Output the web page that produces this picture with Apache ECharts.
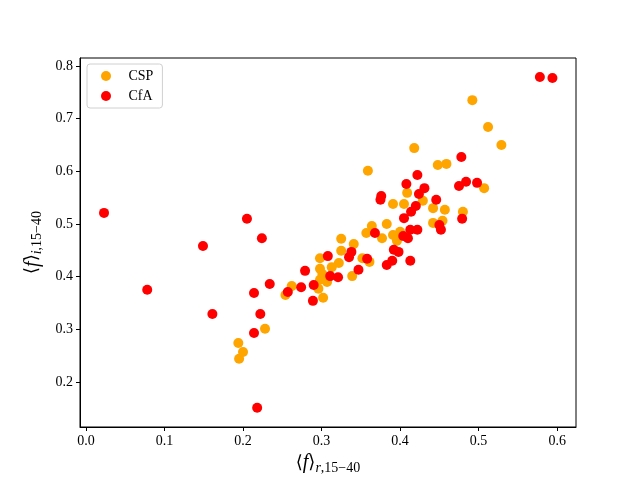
<!DOCTYPE html>
<html>
<head>
<meta charset="utf-8">
<script src="https://cdn.jsdelivr.net/npm/echarts@6/dist/echarts.min.js"></script>
<style>
  html, body { margin: 0; padding: 0; background: #fff; }
  #chart { width: 640px; height: 480px; }
</style>
</head>
<body>
<div id="chart"></div>
<script>
// CSP points [<f>_r, <f>_i]
const cspX = [0.492, 0.512, 0.529, 0.418, 0.359, 0.448, 0.459, 0.507, 0.409, 0.391,
  0.405, 0.429, 0.442, 0.457, 0.480, 0.454, 0.442, 0.364, 0.383, 0.357,
  0.377, 0.391, 0.400, 0.396, 0.325, 0.341, 0.325, 0.352, 0.361, 0.298,
  0.322, 0.313, 0.298, 0.301, 0.298, 0.339, 0.307, 0.296, 0.302, 0.262,
  0.254, 0.228, 0.194, 0.200, 0.195]
const cspY = [0.735, 0.684, 0.650, 0.644, 0.601, 0.612, 0.614, 0.568, 0.559, 0.538,
  0.538, 0.544, 0.530, 0.527, 0.523, 0.506, 0.502, 0.496, 0.500, 0.483,
  0.473, 0.479, 0.485, 0.468, 0.472, 0.462, 0.449, 0.435, 0.428, 0.435,
  0.426, 0.418, 0.415, 0.405, 0.394, 0.401, 0.390, 0.377, 0.360, 0.382,
  0.365, 0.301, 0.274, 0.257, 0.244]

// CfA points
const cfaX = [0.023, 0.078, 0.149, 0.161, 0.205, 0.224, 0.214, 0.214, 0.222, 0.218,
  0.578, 0.594, 0.234, 0.257, 0.274, 0.279, 0.290, 0.289, 0.308, 0.311,
  0.321, 0.347, 0.335, 0.338, 0.358, 0.368, 0.376, 0.375, 0.408, 0.422,
  0.431, 0.424, 0.446, 0.420, 0.414, 0.405, 0.478, 0.475, 0.484, 0.498,
  0.479, 0.450, 0.452, 0.413, 0.422, 0.404, 0.410, 0.392, 0.398, 0.383,
  0.390, 0.413]
const cfaY = [0.521, 0.375, 0.458, 0.329, 0.510, 0.473, 0.369, 0.293, 0.329, 0.151,
  0.779, 0.777, 0.386, 0.371, 0.380, 0.411, 0.384, 0.354, 0.439, 0.401,
  0.399, 0.413, 0.437, 0.447, 0.434, 0.483, 0.553, 0.546, 0.576, 0.593,
  0.568, 0.557, 0.546, 0.534, 0.523, 0.511, 0.627, 0.572, 0.580, 0.578,
  0.510, 0.498, 0.489, 0.489, 0.489, 0.477, 0.473, 0.451, 0.447, 0.422,
  0.430, 0.430]

const xTicks = [0, 0.1, 0.2, 0.3, 0.4, 0.5, 0.6]
const yTicks = [0.2, 0.3, 0.4, 0.5, 0.6, 0.7, 0.8]

const zip = (xs, ys) => xs.map((x, i) => [x, ys[i]])

const serif = 'Liberation Serif, DejaVu Serif, serif'
const nameRich = {
  a: { fontFamily: 'DejaVu Serif', fontSize: 18, color: '#000' },
  i: { fontFamily: serif, fontStyle: 'italic', fontSize: 20, color: '#000' },
  si: { fontFamily: serif, fontStyle: 'italic', fontSize: 14, color: '#000', padding: [10, 0, 0, 0] },
  s: { fontFamily: serif, fontSize: 14, color: '#000', padding: [10, 0, 0, 0] }
}

const chart = echarts.init(document.getElementById('chart'), null, { renderer: 'canvas' })
chart.setOption({
  animation: false,
  backgroundColor: '#fff',
  grid: {
    left: 80, right: 64, top: 58, bottom: 53,
    show: true, borderColor: '#000', borderWidth: 1
  },
  legend: {
    left: 87, top: 64,
    orient: 'vertical',
    itemWidth: 35, itemHeight: 10, itemGap: 6,
    padding: [5, 9, 5, 14],
    backgroundColor: '#fff',
    borderColor: '#d0d0d0', borderWidth: 1, borderRadius: 3,
    icon: 'circle',
    textStyle: { fontFamily: serif, fontSize: 14, color: '#000' },
    data: ['CSP', 'CfA']
  },
  xAxis: {
    type: 'value',
    min: -0.0076, max: 0.624,
    splitLine: { show: false },
    axisLine: { show: true, onZero: false, lineStyle: { color: '#000' } },
    axisTick: { show: true, length: 4, inside: false, customValues: xTicks, lineStyle: { color: '#000' } },
    axisLabel: {
      customValues: xTicks, margin: 7,
      fontFamily: serif, fontSize: 14, color: '#000',
      formatter: v => v.toFixed(1)
    },
    name: '{a|⟨}{i|f}{a|⟩}{si|r}{s|,15−40}',
    nameLocation: 'middle', nameGap: 24,
    nameTextStyle: { rich: nameRich }
  },
  yAxis: {
    type: 'value',
    min: 0.1146, max: 0.815,
    splitLine: { show: false },
    axisLine: { show: true, onZero: false, lineStyle: { color: '#000' } },
    axisTick: { show: true, length: 4, inside: false, customValues: yTicks, lineStyle: { color: '#000' } },
    axisLabel: {
      customValues: yTicks, margin: 7,
      fontFamily: serif, fontSize: 14, color: '#000',
      formatter: v => v.toFixed(1)
    },
    name: '{a|⟨}{i|f}{a|⟩}{si|i}{s|,15−40}',
    nameLocation: 'middle', nameGap: 30, nameRotate: 90,
    nameTextStyle: { rich: nameRich }
  },
  series: [
    {
      name: 'CSP', type: 'scatter', symbol: 'circle', symbolSize: 10,
      itemStyle: { color: '#FFA500', opacity: 1 },
      data: zip(cspX, cspY)
    },
    {
      name: 'CfA', type: 'scatter', symbol: 'circle', symbolSize: 10,
      itemStyle: { color: '#FF0000', opacity: 1 },
      data: zip(cfaX, cfaY)
    }
  ]
})
</script>
</body>
</html>
